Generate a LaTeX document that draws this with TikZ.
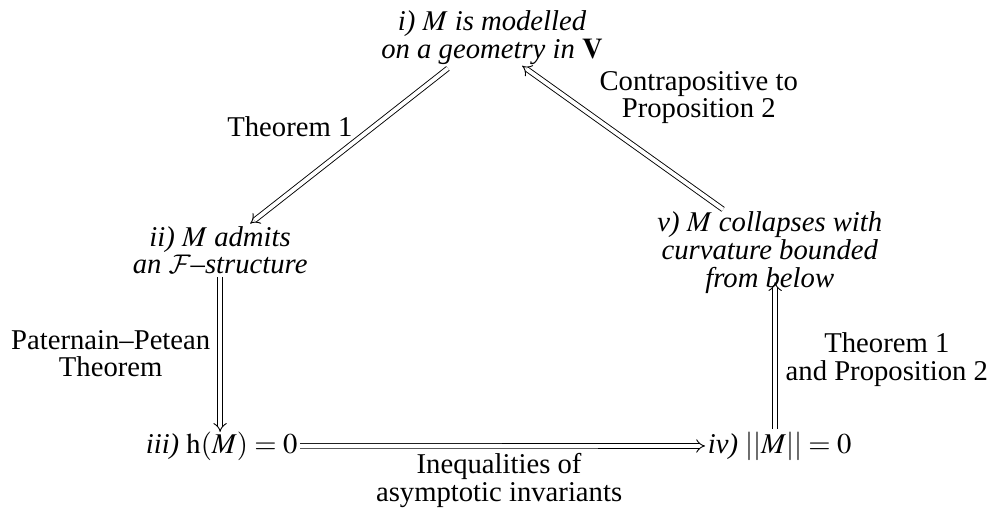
\documentclass[tikz,border=0pt]{standalone}
\usepackage{amsmath}
\usepackage{mathptmx}
\DeclareMathAlphabet{\mathcal}{OMS}{cmsy}{m}{n}
\usepackage{fontspec}
\setmainfont{Liberation Serif}
\usepackage{tikz}
\usetikzlibrary{positioning,arrows.meta,calc}
\tikzset{
  stmt/.style={align=center,font=\fontsize{12.75}{12.3}\selectfont\itshape,inner sep=1pt},
  lbl/.style={align=center,font=\fontsize{12.75}{12.2}\selectfont,inner sep=1pt},
  impl/.style={double,double distance=1.7pt,line width=0.4pt,-{Implies}},
}

\begin{document}
\begin{tikzpicture}
  \useasboundingbox (0,0) rectangle (15.55,7.97);
  % statements
  \node[stmt,anchor=base] (geo) at (7.69,7.06) {i) $M$ is modelled\\on a geometry in $\mathbf{V}$};
  \node[stmt,anchor=base] (fstr) at (3.44,3.69) {ii) $M$ admits\\an $\mathcal{F}$--structure};
  \node[stmt,anchor=base east] (ent) at (4.69,0.89) {iii) \upshape$\mathrm{h}(M)=0$};
  \node[stmt,anchor=base west] (norm) at (11.02,0.89) {iv) \upshape$||M||=0$};
  \node[stmt,anchor=base] (clps) at (12.03,3.48) {v) $M$ collapses with\\curvature bounded\\from below};
  % labels of the implications
  \node[lbl,anchor=base] (thm1) at (4.53,5.84) {Theorem 1};
  \node[lbl,anchor=base] (contra) at (10.92,6.13) {Contrapositive to\\Proposition 2};
  \node[lbl,anchor=base] (pp) at (1.73,2.08) {Paternain--Petean\\Theorem};
  \node[lbl,anchor=base] (tp2) at (13.86,2.03) {Theorem 1\\and Proposition 2};
  \node[lbl,anchor=base] (ineq) at (7.80,0.14) {Inequalities of\\asymptotic invariants};
  % implications
  \draw[impl] ($(geo.south)+(-0.69,-0.02)$) -- ($(fstr.north)+(0.47,0)$);
  \draw[impl] ($(clps.north)+(-0.73,0)$) -- ($(geo.south)+(0.47,0.02)$);
  \draw[impl] (fstr.south) -- ($(fstr.south |- ent.north)+(0,-0.05)$);
  \draw[impl] (ent.east) -- (norm.west);
  \coordinate (nb) at ($(norm.north west)!0.47!(norm.north east)$);
  \draw[impl] (nb) -- ($(nb |- clps.south)+(0,0.22)$);
\end{tikzpicture}
\end{document}
